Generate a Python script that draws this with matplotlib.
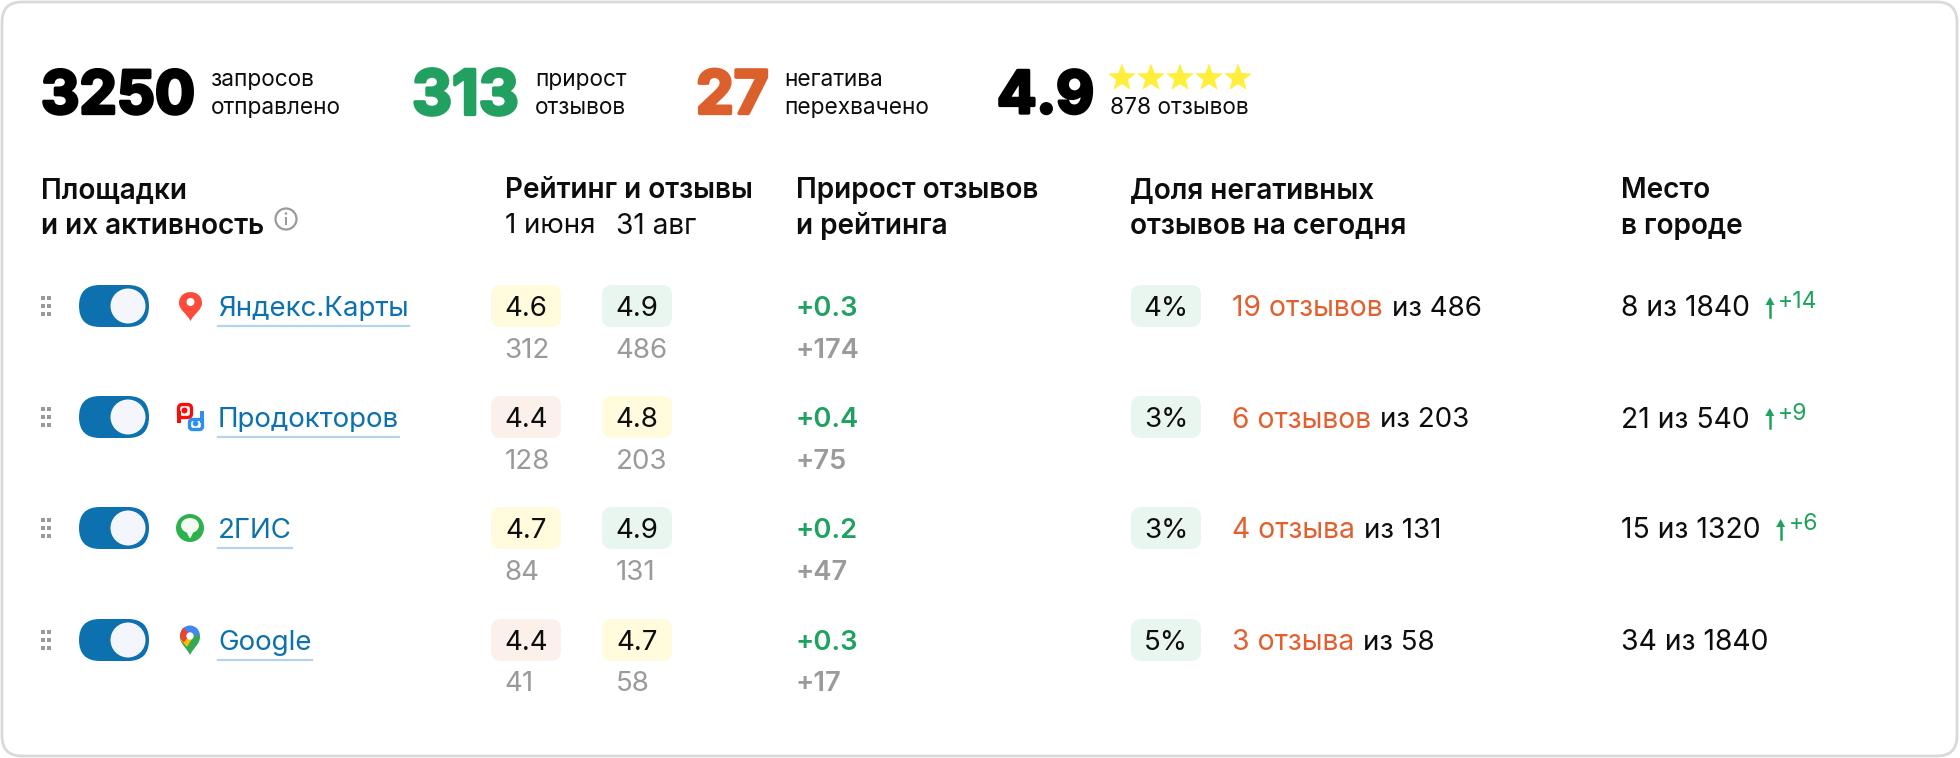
import numpy as np
import matplotlib
matplotlib.use('Agg')
import matplotlib.pyplot as plt
import matplotlib.patheffects as pe
from matplotlib.patches import FancyBboxPatch, Circle, Rectangle, PathPatch, Polygon, Wedge, Ellipse
from matplotlib.path import Path

plt.rcParams['font.family'] = ['Inter', 'DejaVu Sans']

# summary line
kpi_values = ['3250', '313', '27', '4.9']
kpi_labels = [['запросов', 'отправлено'], ['прирост', 'отзывов'], ['негатива', 'перехвачено']]
total_reviews = '878 отзывов'

# table
platforms = ['Яндекс.Карты', 'Продокторов', '2ГИС', 'Google']
rating_june = [4.6, 4.4, 4.7, 4.4]
rating_aug = [4.9, 4.8, 4.9, 4.7]
reviews_june = [312, 128, 84, 41]
reviews_aug = [486, 203, 131, 58]
rating_gain = ['+0.3', '+0.4', '+0.2', '+0.3']
reviews_gain = ['+174', '+75', '+47', '+17']
negative_share = ['4%', '3%', '3%', '5%']
negative_text = ['19 отзывов', '6 отзывов', '4 отзыва', '3 отзыва']
negative_total = [486, 203, 131, 58]
place = ['8 из 1840', '21 из 540', '15 из 1320', '34 из 1840']
place_gain = ['+14', '+9', '+6', None]

BLACK = '#0d0d0d'
GREEN = '#1fa25f'
ORANGE = '#e2602f'
GREY = '#9a9a9a'
BLUE = '#0d71b0'

row_y = [306, 417, 528, 640]
sub_y = [348, 459, 570, 681]

fig = plt.figure(figsize=(19.6, 7.58), dpi=100)
ax = fig.add_axes([0, 0, 1, 1])
ax.set_xlim(0, 1960)
ax.set_ylim(758, 0)
ax.axis('off')


def px(size):
    return size * 72 / 100


def label(x, y, s, size=27.7, color=BLACK, weight='normal', ha='left', fat=0):
    t = ax.text(x, y, s, fontsize=px(size), color=color, fontweight=weight,
                ha=ha, va='center_baseline')
    if fat:
        t.set_path_effects([pe.withStroke(linewidth=fat, foreground=color)])
    return t


def right_edge(t):
    box = t.get_window_extent(fig.canvas.get_renderer())
    return ax.transData.inverted().transform((box.x1, 0))[0]


def badge(x, y, w, h, color, r=10):
    ax.add_patch(FancyBboxPatch((x + r, y + r), w - 2 * r, h - 2 * r,
                                boxstyle=f'round,pad={r},rounding_size={r}',
                                fc=color, ec='none'))


def rating_color(v):
    if v >= 4.9:
        return '#e9f5ef'
    if v >= 4.6:
        return '#fffbdc'
    return '#fbf0ea'


def star(cx, cy, r):
    ang = np.deg2rad(np.arange(10) * 36 - 90)
    rad = np.where(np.arange(10) % 2 == 0, r, r * 0.42)
    ax.add_patch(Polygon(np.c_[cx + rad * np.cos(ang), cy + rad * np.sin(ang)],
                         fc='#ffee3a', ec='none'))


def pin(cx, cy, color, w=11.5):
    # map pin shape, point goes down
    verts = [(cx - w, cy - 3), (cx - w, cy - 17.6), (cx + w, cy - 17.6), (cx + w, cy - 3),
             (cx + w, cy + 4), (cx + 4, cy + 7), (cx, cy + 15),
             (cx - 4, cy + 7), (cx - w, cy + 4), (cx - w, cy - 3)]
    codes = [Path.MOVETO] + [Path.CURVE4] * 9
    ax.add_patch(PathPatch(Path(verts, codes), fc=color, ec='none'))


def icon_yandex(cy):
    pin(190.5, cy, '#fc4b3a')
    ax.add_patch(Circle((190.5, cy - 4), 4, fc='white', ec='none'))


def icon_prodoctorov(cy):
    red, blue = '#f40f0f', '#2f8ff0'
    ax.add_patch(FancyBboxPatch((180.5, cy - 10.5), 9, 9, boxstyle='round,pad=2,rounding_size=4',
                                fc='white', ec=red, lw=2.4))
    ax.add_patch(Rectangle((177, cy - 6), 3.5, 12, fc=red, ec='none'))
    ax.add_patch(Circle((184.5, cy - 6.5), 3, fc=red, ec='none'))
    ax.add_patch(FancyBboxPatch((191.5, cy + 4.5), 9, 6, boxstyle='round,pad=2,rounding_size=3',
                                fc='white', ec=blue, lw=2.4))
    ax.add_patch(Rectangle((200, cy - 6), 3.8, 12, fc=blue, ec='none'))
    ax.add_patch(Circle((195.5, cy + 6.5), 2.8, fc=blue, ec='none'))


def icon_2gis(cy):
    ax.add_patch(Circle((190, cy), 14, fc='#2bb24c', ec='none'))
    ax.add_patch(Ellipse((190, cy - 2.5), 18, 15, fc='#f4fbf2', ec='none'))
    ax.add_patch(Polygon([(186, cy + 3), (194, cy + 3), (190.5, cy + 10), (189.5, cy + 10)],
                         fc='#f4fbf2', ec='none'))


def icon_google(cy):
    cx = 190
    pin(cx, cy, '#34a853', w=10)
    ax.add_patch(Polygon([(cx - 9.5, cy + 0), (cx - 3, cy + 7), (cx + 2, cy - 1), (cx - 4, cy - 6)],
                         fc='#fbbc04', ec='none'))
    ax.add_patch(Wedge((cx, cy - 5), 9.5, 180, 360, fc='#4285f4', ec='none'))
    ax.add_patch(Wedge((cx, cy - 5), 9.7, 130, 230, fc='#ea4335', ec='none', zorder=3))
    ax.add_patch(Circle((cx, cy - 4), 3.7, fc='white', ec='none', zorder=4))


icons = [icon_yandex, icon_prodoctorov, icon_2gis, icon_google]

# card
ax.add_patch(FancyBboxPatch((22, 22), 1915, 714, boxstyle='round,pad=20,rounding_size=20',
                            fc='white', ec='#d9d9d9', lw=2))

# summary line
kpi_x = [41, 412, 696, 997]
kpi_sizes = [59.5, 62, 60, 58.5]
kpi_colors = ['#000000', '#21a05f', '#dc602b', '#000000']
kpi_text_x = [211, 535, 784]
for x, s, c, fs in zip(kpi_x, kpi_values, kpi_colors, kpi_sizes):
    label(x, 92, s, size=fs, color=c, weight='bold', fat=2.4)
for x, pair in zip(kpi_text_x, kpi_labels):
    label(x, 78, pair[0], size=22.7)
    label(x, 106, pair[1], size=22.7)
for x in [1122, 1151, 1180, 1209, 1238]:
    star(x, 78, 14.5)
label(1110, 106, total_reviews, size=22.7)

# headers
for x, first, second in [(41, 'Площадки', 'и их активность'),
                         (796, 'Прирост отзывов', 'и рейтинга'),
                         (1130, 'Доля негативных', 'отзывов на сегодня'),
                         (1621, 'Место', 'в городе')]:
    label(x, 188, first, size=27.9, weight='semibold')
    label(x, 223, second, size=27.9, weight='semibold')
label(505, 188, 'Рейтинг и отзывы', size=27.9, weight='semibold')
label(505, 223, '1 июня', size=27.7)
label(616, 223, '31 авг', size=28)
ax.add_patch(Circle((286, 219), 10.5, fc='none', ec=GREY, lw=1.6))
ax.add_patch(Rectangle((285, 217), 2, 8, fc=GREY, ec='none'))
ax.add_patch(Circle((286, 213.5), 1.3, fc=GREY, ec='none'))

# rows
for i, name in enumerate(platforms):
    y = row_y[i]
    for dx in [43, 49]:
        for dy in [-8, 0, 8]:
            ax.add_patch(Rectangle((dx - 2, y + dy - 2), 4, 4, fc=GREY, ec='none'))
    badge(79, y - 21, 70, 42, BLUE, r=21)
    ax.add_patch(Circle((128, y), 17.5, fc='#f4f6fb', ec='none'))
    icons[i](y)

    t = label(218, y, name, color=BLUE)
    ax.plot([218, right_edge(t)], [y + 20, y + 20], color='#b4d4e8', lw=1.6)

    badge(491, y - 21, 70, 42, rating_color(rating_june[i]))
    badge(602, y - 21, 70, 42, rating_color(rating_aug[i]))
    label(526, y, f'{rating_june[i]}', ha='center')
    label(637, y, f'{rating_aug[i]}', ha='center')
    label(504.5, sub_y[i], str(reviews_june[i]), color=GREY)
    label(615.5, sub_y[i], str(reviews_aug[i]), color=GREY)

    label(795, y, rating_gain[i], size=27.3, color=GREEN, weight='semibold')
    label(795, sub_y[i], reviews_gain[i], size=27.3, color=GREY, weight='semibold')

    badge(1131, y - 21, 70, 42, '#e9f5ef')
    label(1166, y, negative_share[i], ha='center')
    t = label(1232, y, negative_text[i], size=28.3, color=ORANGE)
    label(right_edge(t) + 9, y, f'из {negative_total[i]}')

    t = label(1621, y, place[i], size=28.3)
    if place_gain[i]:
        ax_x = right_edge(t) + 20
        ax.add_patch(Polygon([(ax_x - 4.5, y - 1), (ax_x, y - 9), (ax_x + 4.5, y - 1)], fc=GREEN, ec='none'))
        ax.plot([ax_x, ax_x], [y - 2, y + 11], color=GREEN, lw=1.8)
        label(ax_x + 8, y - 6, place_gain[i], size=23, color=GREEN)

fig.savefig('out.png', dpi=100)
